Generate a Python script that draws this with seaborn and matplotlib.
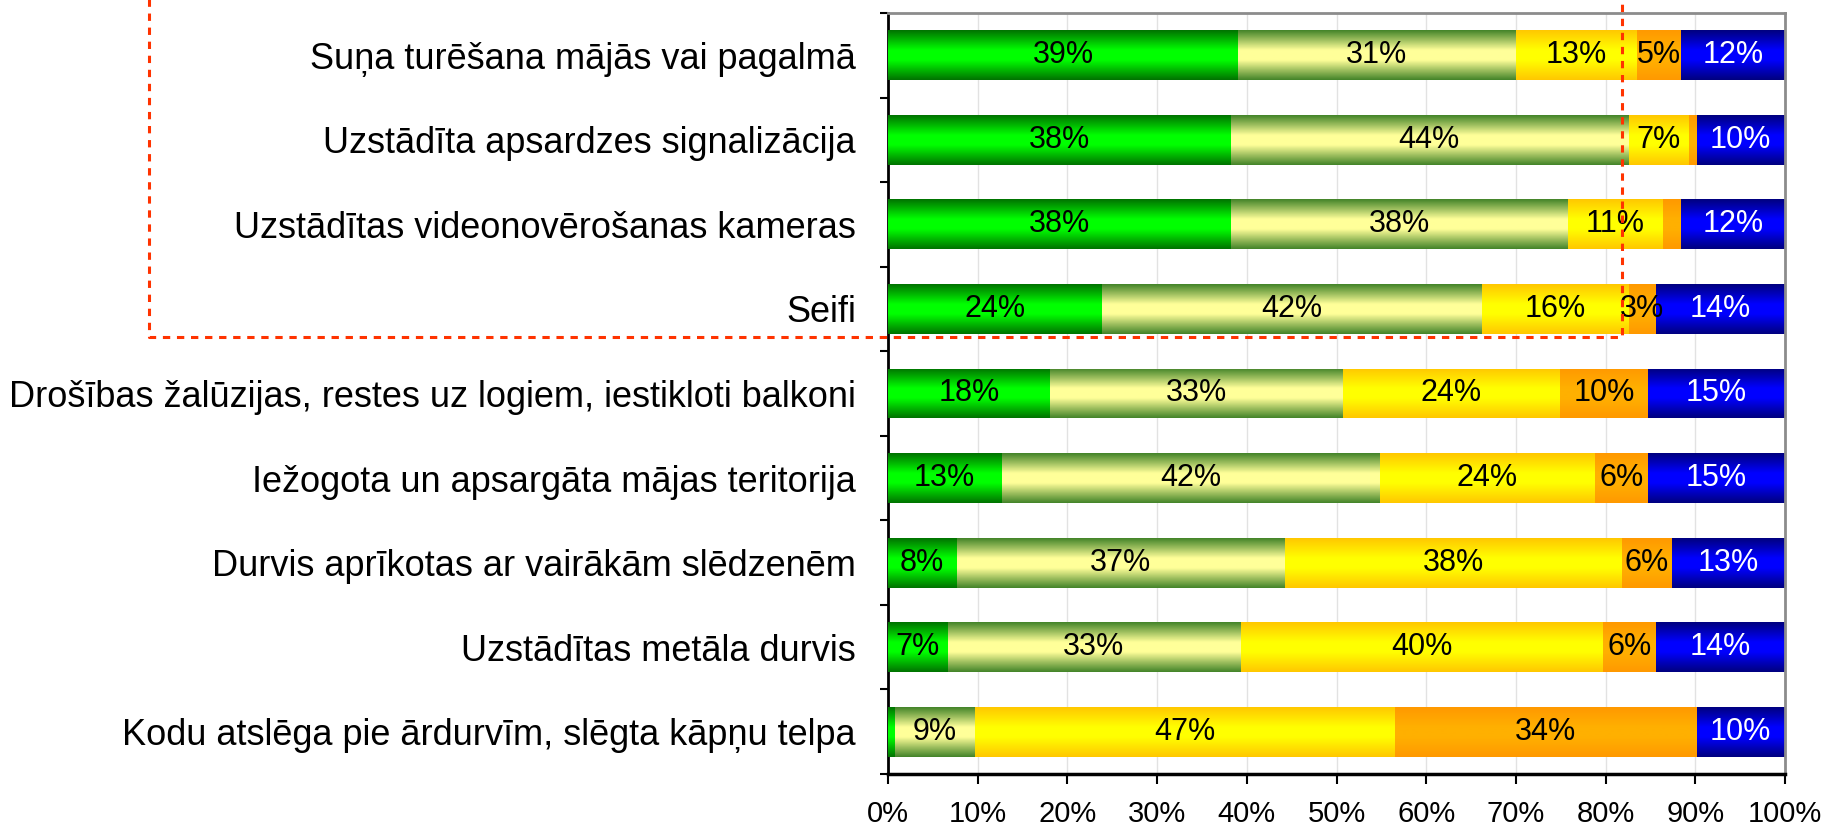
import numpy as np
import matplotlib
matplotlib.use('Agg')
import matplotlib.pyplot as plt
from matplotlib.colors import LinearSegmentedColormap
from matplotlib.ticker import FuncFormatter
import seaborn as sns

# ── Data (percent of respondents) ────────────────────────────────────────────
categories = [
    'Suņa turēšana mājās vai pagalmā',
    'Uzstādīta apsardzes signalizācija',
    'Uzstādītas videonovērošanas kameras',
    'Seifi',
    'Drošības žalūzijas, restes uz logiem, iestikloti balkoni',
    'Iežogota un apsargāta mājas teritorija',
    'Durvis aprīkotas ar vairākām slēdzenēm',
    'Uzstādītas metāla durvis',
    'Kodu atslēga pie ārdurvīm, slēgta kāpņu telpa',
]
green_vals = [39.0, 38.2, 38.2, 23.8, 18.0, 12.6, 7.6, 6.6, 0.7]
pale_vals = [31.0, 44.3, 37.6, 42.4, 32.7, 42.2, 36.6, 32.7, 8.9]
yellow_vals = [13.4, 6.8, 10.6, 16.3, 24.2, 24.0, 37.6, 40.4, 46.9]
orange_vals = [5.0, 0.8, 2.0, 3.1, 9.8, 5.9, 5.6, 5.9, 33.6]
blue_vals = [11.6, 9.9, 11.6, 14.4, 15.3, 15.3, 12.6, 14.4, 9.9]
x_ticks = list(range(0, 101, 10))

# edge colour / centre colour of each segment's gradient
seg_colors = [
    ('#007400', '#00FF00'),
    ('#45852a', '#FFFF99'),
    ('#FFC800', '#FFFF00'),
    ('#FF9900', '#FFB000'),
    ('#000080', '#0000FF'),
]
label_colors = ['black', 'black', 'black', 'black', 'white']

series = np.array([green_vals, pale_vals, yellow_vals, orange_vals, blue_vals])
cum = np.cumsum(series, axis=0)

sns.set_theme(style='white')
plt.rcParams['font.family'] = ['Liberation Sans', 'DejaVu Sans']

fig, ax = plt.subplots(figsize=(18.22, 8.31), dpi=100)
fig.subplots_adjust(left=0.4874, right=0.9797, top=0.9844, bottom=0.0686)

grad = np.linspace(0, 1, 64).reshape(-1, 1)

# stacked bars: draw cumulative totals from the widest down, each on top
for k in range(len(series) - 1, -1, -1):
    edge, mid = seg_colors[k]
    cmap = LinearSegmentedColormap.from_list(
        f'seg{k}', [(0, edge), (0.4, mid), (0.6, mid), (1, edge)])
    n0 = len(ax.patches)
    sns.barplot(x=cum[k], y=categories, orient='h', color=mid, width=0.59,
                saturation=1, errorbar=None, ax=ax)
    for p in ax.patches[n0:]:
        x0, y0, w, h = p.get_x(), p.get_y(), p.get_width(), p.get_height()
        im = ax.imshow(grad, cmap=cmap, aspect='auto', interpolation='bilinear',
                       extent=[x0, x0 + w, y0 + h, y0], zorder=2 + (4 - k))
        im.set_clip_path(p)
        p.set_facecolor('none')
        p.set_edgecolor('none')

# value labels
for k in range(len(series)):
    for i, v in enumerate(series[k]):
        r = int(round(v))
        if r >= 3:
            ax.text(cum[k][i] - v / 2, i, f'{r}%', ha='center', va='center',
                    color=label_colors[k], fontsize=22, zorder=10)

n = len(categories)
ax.set_xlim(0, 100)
ax.set_ylim(n - 0.5, -0.5)
ax.set_xticks(x_ticks)
ax.xaxis.set_major_formatter(FuncFormatter(lambda v, p: f'{v:.0f}%'))
ax.grid(axis='x', color='#e2e2e2', lw=1)
ax.grid(axis='y', visible=False)
ax.set_axisbelow(True)
ax.set_xlabel('')
ax.set_ylabel('')

ax.set_yticks(np.arange(-0.5, n, 1), minor=True)
ax.tick_params(axis='x', bottom=True, direction='out', length=7, width=1.5,
               color='black', labelsize=21, pad=12, labelcolor='black')
ax.tick_params(axis='y', which='major', left=False, length=0, pad=23,
               labelsize=26, labelcolor='black')
ax.tick_params(axis='y', which='minor', left=True, direction='out', length=6,
               width=1.5, color='black')

ax.spines['left'].set_color('black')
ax.spines['left'].set_linewidth(2)
ax.spines['bottom'].set_color('black')
ax.spines['bottom'].set_linewidth(2.5)
for s in ['top', 'right']:
    ax.spines[s].set_color('#8c8c8c')
    ax.spines[s].set_linewidth(2)

# red dashed frame around the top four items
ax.plot([-82.4, -82.4, 81.8, 81.8], [-0.66, 3.33, 3.33, -0.66],
        color='#FF3300', lw=2.2, ls=(0, (2.4, 2.2)), clip_on=False, zorder=20)

plt.savefig('out.png', dpi=100)
plt.close()
